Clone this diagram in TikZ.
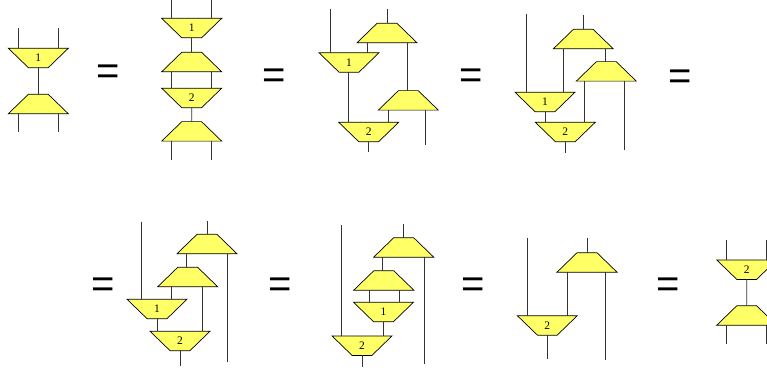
\documentclass[tikz,border=0pt]{standalone}
\usepackage{fontspec}
\setmainfont{Liberation Serif}
\newfontfamily\eqfont{Liberation Sans}
\usetikzlibrary{shapes.geometric}
\definecolor{amarillo}{HTML}{FFFF66}

\begin{document}
\begin{tikzpicture}[x=1pt, y=-1pt,
  box/.style={trapezium, trapezium angle=52.4, trapezium stretches=true,
    minimum width=60pt, minimum height=19.5pt, inner sep=0pt, outer sep=0pt,
    draw=black, line width=0.7pt, fill=amarillo, font=\fontsize{11.5}{12}\selectfont},
  ubox/.style={box},
  dbox/.style={box, shape border rotate=180},
  wire/.style={black!80, line width=0.8pt},
  eq/.style={font=\eqfont\fontsize{40}{40}\selectfont, inner sep=0pt}]
  % marco
  \useasboundingbox (0,0) rectangle (767,371);
  \clip (0,0) rectangle (767,371);

  % Diagrama 1
  \node[dbox] (a1) at (38.3,58) {1};
  \node[ubox] (a2) at (38.3,104) {\phantom{1}};
  \draw[wire] (18.3,28.3) -- (a1.north -| 18.3,0);
  \draw[wire] (58.3,28.3) -- (a1.north -| 58.3,0);
  \draw[wire] (a1.south) -- (a2.north);
  \draw[wire] (a2.south -| 18.3,0) -- ++(0,18.7);
  \draw[wire] (a2.south -| 58.3,0) -- ++(0,18.7);
  \node[eq] (eq1) at (108,74.3) {=};

  % Diagrama 2
  \node[dbox] (b1) at (191.7,28.1) {1};
  \node[ubox] (b2) at (191.7,62) {\phantom{1}};
  \node[dbox] (b3) at (191.7,98) {2};
  \node[ubox] (b4) at (191.7,131.4) {\phantom{1}};
  \draw[wire] (171.7,0) -- (b1.north -| 171.7,0);
  \draw[wire] (211.7,0) -- (b1.north -| 211.7,0);
  \draw[wire] (b1.south) -- (b2.north);
  \draw[wire] (b2.south -| 171.7,0) -- (b3.north -| 171.7,0);
  \draw[wire] (b2.south -| 211.7,0) -- (b3.north -| 211.7,0);
  \draw[wire] (b3.south) -- (b4.north);
  \draw[wire] (b4.south -| 171.7,0) -- ++(0,19);
  \draw[wire] (b4.south -| 211.7,0) -- ++(0,19);
  \node[eq] (eq2) at (274,78.4) {=};

  % Diagrama 3
  \node[ubox] (c1) at (387,33) {\phantom{1}};
  \node[dbox] (c2) at (349,62.5) {1};
  \node[ubox] (c3) at (408.3,100.4) {\phantom{1}};
  \node[dbox] (c4) at (368.7,132) {2};
  \draw[wire] (c1.north) -- ++(0,-14.3);
  \draw[wire] (330,9) -- (c2.north -| 330,0);
  \draw[wire] (c1.south -| 367,0) -- (c2.north -| 367,0);
  \draw[wire] (c1.south -| 407.5,0) -- (c3.north -| 407.5,0);
  \draw[wire] (c2.south -| 348.5,0) -- (c4.north -| 348.5,0);
  \draw[wire] (c3.south -| 388.5,0) -- (c4.north -| 388.5,0);
  \draw[wire] (c3.south -| 425,0) -- (425,145);
  \draw[wire] (c4.south) -- ++(0,10.6);
  \node[eq] (eq3) at (471,78.4) {=};

  % Diagrama 4
  \node[ubox] (d1) at (583.3,39.1) {\phantom{1}};
  \node[ubox] (d2) at (606.3,71.4) {\phantom{1}};
  \node[dbox] (d3) at (545,102) {1};
  \node[dbox] (d4) at (565.3,132) {2};
  \draw[wire] (d1.north) -- ++(0,-14.3);
  \draw[wire] (526,14.3) -- (d3.north -| 526,0);
  \draw[wire] (d1.south -| 563.3,0) -- (d3.north -| 563.3,0);
  \draw[wire] (d1.south -| 605,0) -- (d2.north -| 605,0);
  \draw[wire] (d2.south -| 584.3,0) -- (d4.north -| 584.3,0);
  \draw[wire] (d2.south -| 624.3,0) -- (624.3,150);
  \draw[wire] (d3.south -| 545,0) -- (d4.north -| 545,0);
  \draw[wire] (d4.south) -- ++(0,11);
  \node[eq] (eq4) at (680,80) {=};

  % Diagrama 5
  \node[eq] (eq5) at (102.7,287.7) {=};
  \node[ubox] (e1) at (207,244) {\phantom{1}};
  \node[ubox] (e2) at (187.7,277) {\phantom{1}};
  \node[dbox] (e3) at (157,309) {1};
  \node[dbox] (e4) at (180,341) {2};
  \draw[wire] (e1.north) -- ++(0,-13.3);
  \draw[wire] (141,221.7) -- (e3.north -| 141,0);
  \draw[wire] (e1.south -| 186,0) -- (e2.north -| 186,0);
  \draw[wire] (e1.south -| 227.3,0) -- (227.3,361.7);
  \draw[wire] (e2.south -| 171.7,0) -- (e3.north -| 171.7,0);
  \draw[wire] (e2.south -| 202.7,0) -- (e4.north -| 202.7,0);
  \draw[wire] (e3.south -| 157,0) -- (e4.north -| 157,0);
  \draw[wire] (e4.south) -- ++(0,15.7);
  \node[eq] (eq6) at (280,287.3) {=};

  % Diagrama 6
  \node[ubox] (f1) at (403.7,247.4) {\phantom{1}};
  \node[ubox] (f2) at (383.8,280.4) {\phantom{1}};
  \node[dbox] (f3) at (383.5,312) {1};
  \node[dbox] (f4) at (362,345.7) {2};
  \draw[wire] (f1.north) -- ++(0,-13.7);
  \draw[wire] (341,225) -- (f4.north -| 341,0);
  \draw[wire] (f1.south -| 382.3,0) -- (f2.north -| 382.3,0);
  \draw[wire] (f1.south -| 424,0) -- (424,364.3);
  \draw[wire] (f2.south -| 369,0) -- (f3.north -| 369,0);
  \draw[wire] (f2.south -| 399,0) -- (f3.north -| 399,0);
  \draw[wire] (f3.south) -- (f4.north -| f3.south);
  \draw[wire] (f4.south) -- ++(0,11.6);
  \node[eq] (eq7) at (472.7,287.3) {=};

  % Diagrama 7
  \node[ubox] (g1) at (587,262.4) {\phantom{1}};
  \node[dbox] (g2) at (547.3,325.4) {2};
  \draw[wire] (g1.north) -- ++(0,-14.4);
  \draw[wire] (527.7,238.3) -- (g2.north -| 527.7,0);
  \draw[wire] (g1.south -| 567.5,0) -- (g2.north -| 567.5,0);
  \draw[wire] (g1.south -| 605,0) -- (605,360);
  \draw[wire] (g2.south) -- ++(0,24.3);
  \node[eq] (eq8) at (667.7,287.3) {=};

  % Diagrama 8
  \node[dbox] (h1) at (746.7,269.7) {2};
  \node[ubox] (h2) at (746.7,315.5) {\phantom{1}};
  \draw[wire] (726.7,240) -- (h1.north -| 726.7,0);
  \draw[wire] (766.7,240) -- (h1.north -| 766.7,0);
  \draw[wire] (h1.south) -- (h2.north);
  \draw[wire] (h2.south -| 726.7,0) -- ++(0,19);
  \draw[wire] (h2.south -| 766.7,0) -- ++(0,19);
\end{tikzpicture}
\end{document}
